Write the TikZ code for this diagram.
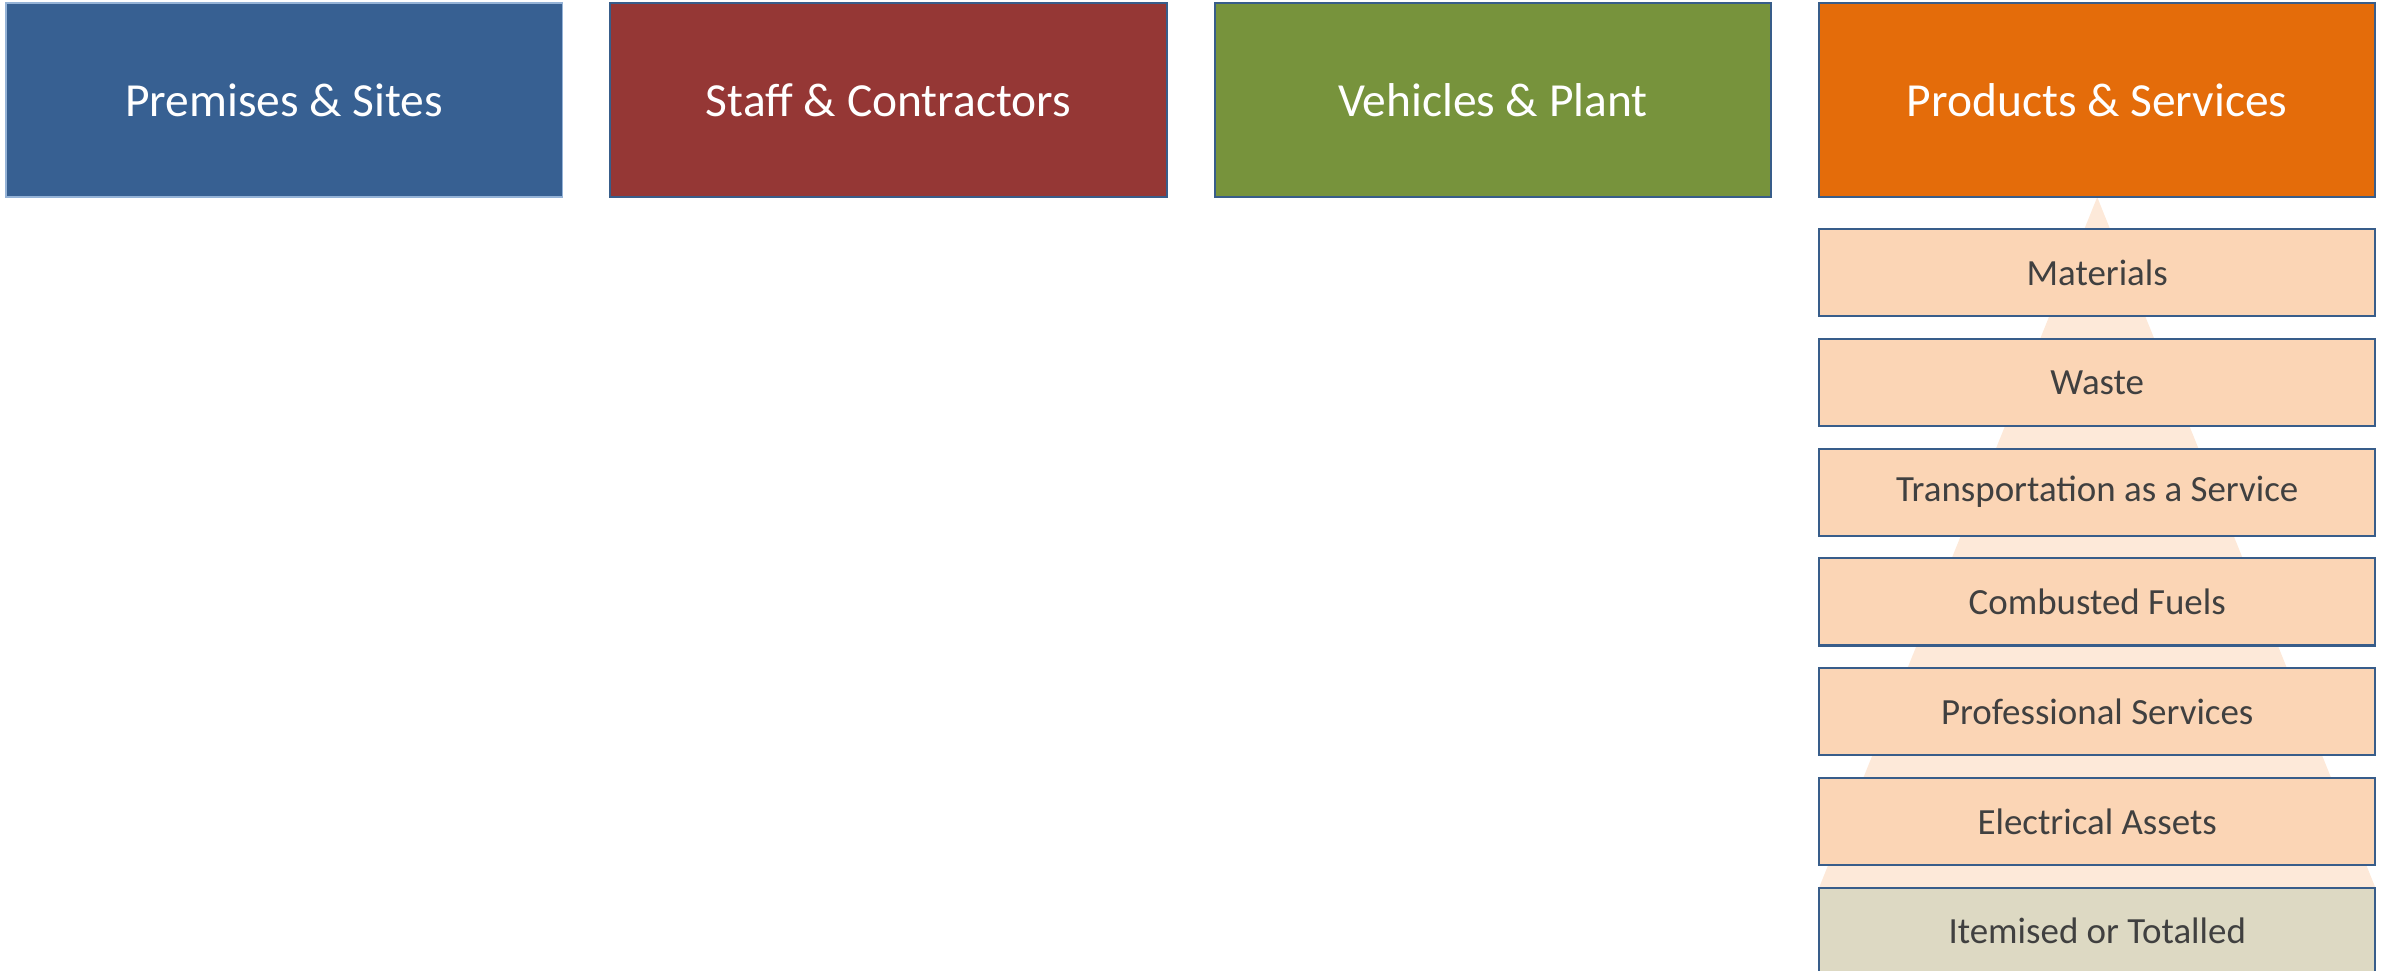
\documentclass[tikz,border=0pt]{standalone}
\usepackage{fontspec}
\setmainfont{Carlito}
\usetikzlibrary{positioning, backgrounds}

\definecolor{premblue}{HTML}{376092}
\definecolor{staffred}{HTML}{953735}
\definecolor{vehgreen}{HTML}{77933C}
\definecolor{prodorange}{HTML}{E46C0A}
\definecolor{edgeblue}{HTML}{385D8A}
\definecolor{edgelight}{HTML}{95B3D7}
\definecolor{itempeach}{HTML}{FBD5B5}
\definecolor{itemtan}{HTML}{DDD9C3}
\definecolor{tripeach}{HTML}{FDE9D9}
\definecolor{itemtext}{HTML}{404040}

\tikzset{
	head/.style = {draw = edgeblue, line width = 0.6pt, outer sep = 0pt, inner sep = 0pt,
		minimum width = 5.56cm, minimum height = 1.94cm, text = white,
		font = \fontsize{13.5}{16}\selectfont},
	item/.style = {draw = edgeblue, fill = itempeach, line width = 0.6pt, outer sep = 0pt, inner sep = 0pt,
		minimum width = 5.56cm, minimum height = 0.87cm, text = itemtext,
		font = \fontsize{10.5}{13}\selectfont},
}

\begin{document}
\begin{tikzpicture}[x = 0.01cm, y = -0.01cm]
			\def\gap{0.227cm};
			
			\useasboundingbox (0,0) rectangle (2381,971);
			
			% category headers
			\node [head, fill = premblue, draw = edgelight, line width = 0.4pt, anchor = north west] (prem) at (6,3) {Premises \& Sites};
			\node [head, fill = staffred, right = 0.48cm of prem] (staff) {Staff \& Contractors};
			\node [head, fill = vehgreen, right = 0.48cm of staff] (veh) {Vehicles \& Plant};
			\node [head, fill = prodorange, right = 0.48cm of veh] (prod) {Products \& Services};
			
			% product sub-categories
			\node [item, below = 0.32cm of prod] (mat) {Materials};
			\node [item, below = \gap of mat] (waste) {Waste};
			\node [item, below = \gap of waste] (trans) {Transportation as a Service};
			\node [item, below = \gap of trans] (fuel) {Combusted Fuels};
			\node [item, below = \gap of fuel] (prof) {Professional Services};
			\node [item, below = \gap of prof] (elec) {Electrical Assets};
			\node [item, fill = itemtan, below = \gap of elec] (total) {Itemised or Totalled};
			
			\begin{scope}[on background layer]
				\fill [tripeach] (prod.south) -- (total.north west) -- (total.north east) -- cycle;
			\end{scope}
		\end{tikzpicture}
\end{document}
